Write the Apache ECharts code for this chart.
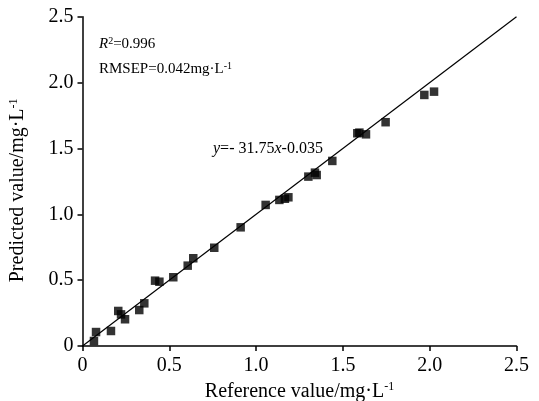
<!DOCTYPE html>
<html><head><meta charset="utf-8">
<script src="https://cdn.jsdelivr.net/npm/echarts@6/dist/echarts.min.js"></script>
<style>html,body{margin:0;padding:0;background:#fff}#c{width:539px;height:401px}</style>
</head><body><div id="c"></div>
<script>
const refValues = [0.066,0.078,0.164,0.206,0.222,0.245,0.327,0.356,0.418,0.443,0.523,0.606,0.638,0.759,0.911,1.055,1.134,1.166,1.186,1.301,1.339,1.349,1.439,1.583,1.595,1.633,1.746,1.969,2.025];
const predValues = [0.038,0.106,0.114,0.266,0.240,0.203,0.273,0.324,0.496,0.488,0.522,0.610,0.666,0.746,0.901,1.071,1.109,1.118,1.129,1.286,1.316,1.298,1.405,1.615,1.620,1.607,1.699,1.906,1.931];
const fitLineX = [0, 2.5];
const fitLineY = [0, 2.5];
const xTicks = [0, 0.5, 1.0, 1.5, 2.0, 2.5];
const yTicks = [0, 0.5, 1.0, 1.5, 2.0, 2.5];
const annoR2 = '0.996';
const annoRmsep = '0.042';
const annoEq = '- 31.75';
const annoEqB = '-0.035';

const font = 'Liberation Serif, Times New Roman, serif';
const points = refValues.map((v, i) => [v, predValues[i]]);
const fit = fitLineX.map((v, i) => [v, fitLineY[i]]);
const fmt = v => v === 0 ? '0' : v.toFixed(1);
const sup = {fontSize: 12, fontFamily: font, color: '#000', verticalAlign: 'top', padding: [0,0,9,0]};

const chart = echarts.init(document.getElementById('c'), null, {renderer: 'canvas'});
chart.setOption({
  animation: false,
  backgroundColor: '#fff',
  grid: {left: 82.5, right: 22.5, top: 16.7, bottom: 55, containLabel: false, outerBoundsMode: 'none'},
  xAxis: {
    type: 'value', min: xTicks[0], max: xTicks[xTicks.length-1], interval: 0.5,
    splitLine: {show: false},
    axisLine: {lineStyle: {color: '#000', width: 1.5}},
    axisTick: {inside: false, length: 5, lineStyle: {color: '#000', width: 1.5}},
    axisLabel: {color: '#000', fontFamily: font, fontSize: 20, margin: 10, formatter: fmt},
    name: '{a|Reference value/mg·L}{s|-1}',
    nameLocation: 'middle', nameGap: 32,
    nameTextStyle: {rich: {a: {fontSize: 20, fontFamily: font, color: '#000'}, s: sup}}
  },
  yAxis: {
    type: 'value', min: yTicks[0], max: yTicks[yTicks.length-1], interval: 0.5,
    splitLine: {show: false},
    axisLine: {show: true, lineStyle: {color: '#000', width: 1.5}},
    axisTick: {show: true, inside: false, length: 5, lineStyle: {color: '#000', width: 1.5}},
    axisLabel: {color: '#000', fontFamily: font, fontSize: 20, margin: 9, formatter: fmt},
    name: '{a|Predicted value/mg·L}{s|-1}',
    nameLocation: 'middle', nameGap: 54, nameRotate: 90,
    nameTextStyle: {padding: [0, 18, 0, 0], rich: {a: {fontSize: 20, fontFamily: font, color: '#000'}, s: sup}}
  },
  series: [
    {type: 'line', data: fit, symbol: 'none', lineStyle: {color: '#000', width: 1.2}, z: 1},
    {type: 'scatter', data: points, symbol: 'rect', symbolSize: 8.5, itemStyle: {color: '#000'}, z: 2}
  ],
  graphic: [
    {type: 'text', left: 99, top: 36, style: {
      text: '{i|R}{s|2}{n|=' + annoR2 + '}',
      rich: {i: {fontSize: 15, fontFamily: font, fontStyle: 'italic', fill: '#000'}, s: {fontSize: 10, fontFamily: font, fill: '#000', verticalAlign: 'top', padding: [0,0,7,0]}, n: {fontSize: 15, fontFamily: font, fill: '#000'}}
    }},
    {type: 'text', left: 99, top: 61, style: {
      text: '{n|RMSEP=' + annoRmsep + 'mg·L}{s|-1}',
      rich: {n: {fontSize: 15, fontFamily: font, fill: '#000'}, s: {fontSize: 10, fontFamily: font, fill: '#000', verticalAlign: 'top', padding: [0,0,7,0]}}
    }},
    {type: 'text', left: 213, top: 141, style: {
      text: '{i|y}{n|=' + annoEq + '}{i|x}{n|' + annoEqB + '}',
      rich: {i: {fontSize: 16, fontFamily: font, fontStyle: 'italic', fill: '#000'}, n: {fontSize: 16, fontFamily: font, fill: '#000'}}
    }}
  ]
});
</script></body></html>
